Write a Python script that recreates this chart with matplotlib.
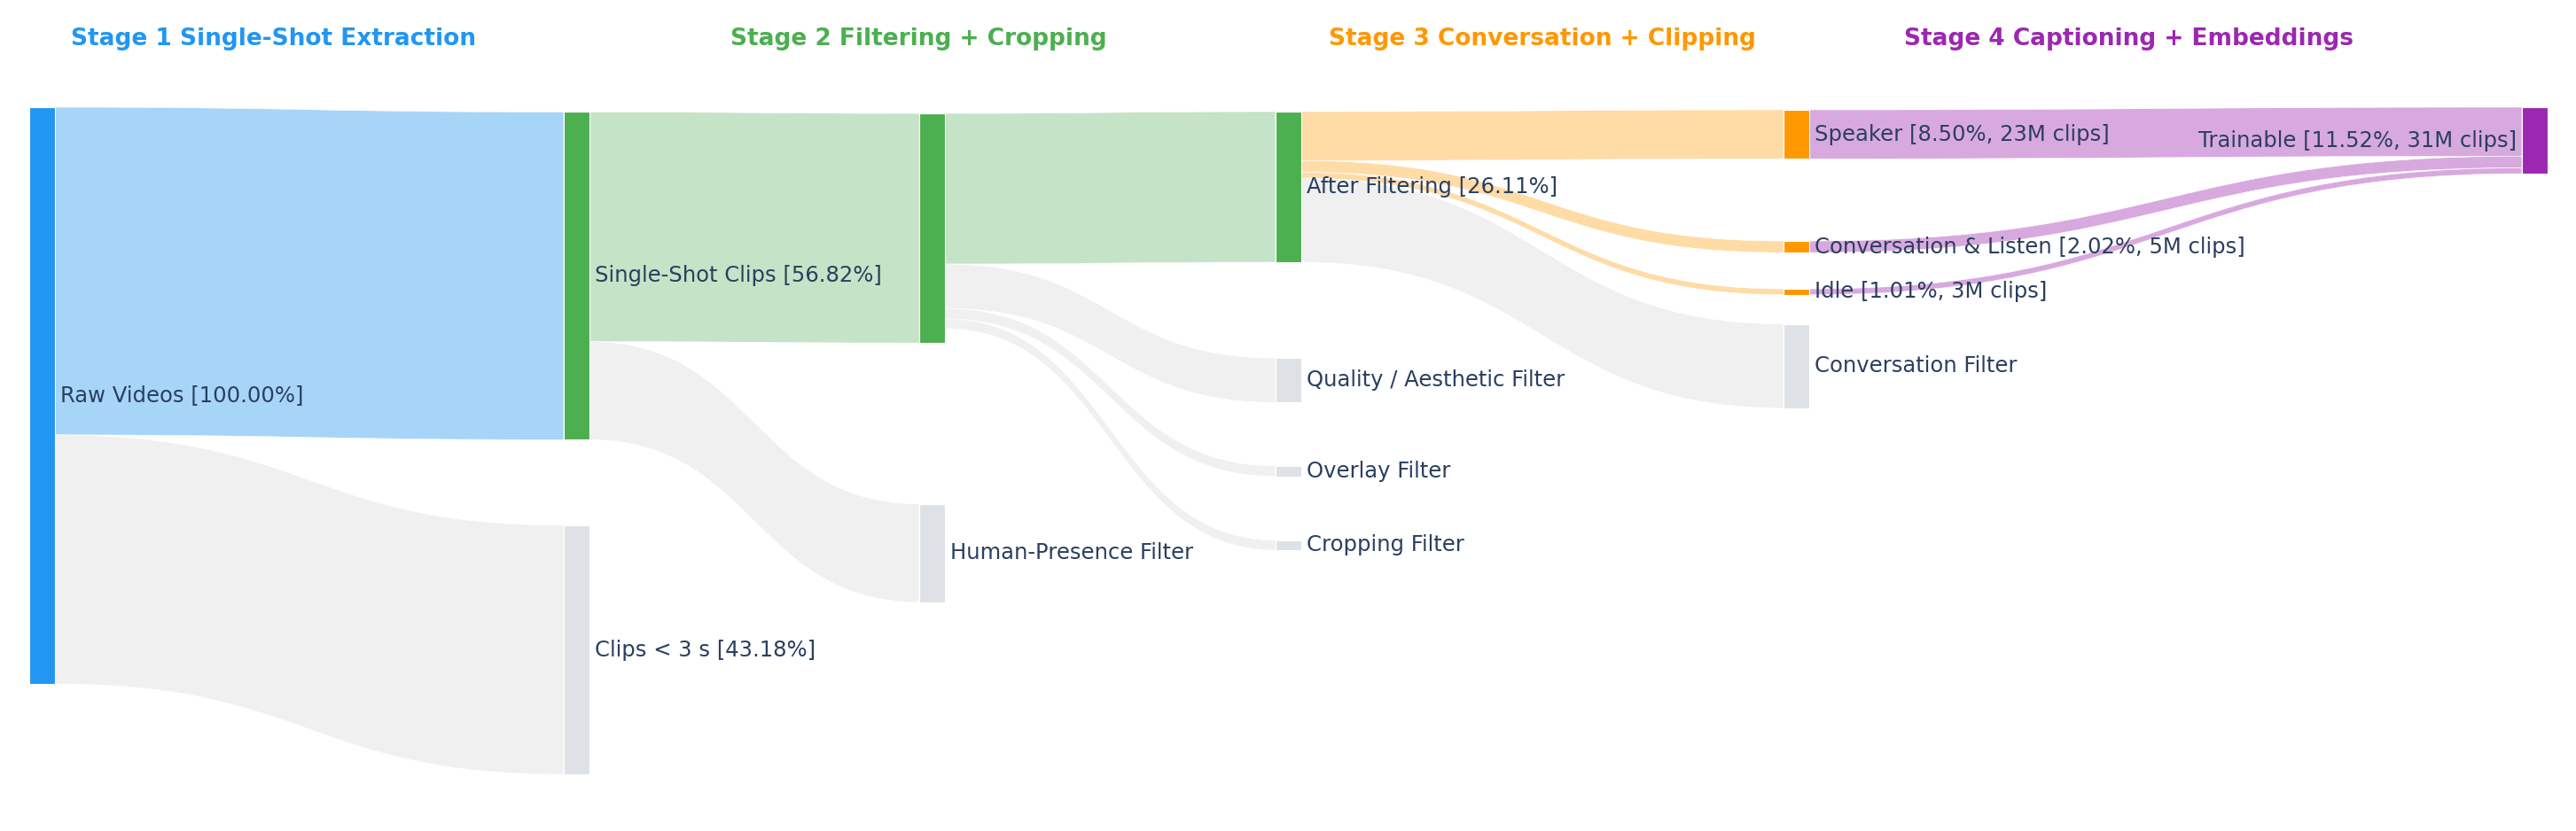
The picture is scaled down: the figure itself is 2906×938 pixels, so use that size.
import matplotlib
matplotlib.use("Agg")
import matplotlib.pyplot as plt
from matplotlib.path import Path
from matplotlib.patches import PathPatch, Rectangle

# node labels (empty label for the unnamed intermediate node)
labels = [
    "Raw Videos [100.00%]",
    "Single-Shot Clips [56.82%]",
    "Clips < 3 s [43.18%]",
    "",
    "Human-Presence Filter",
    "After Filtering [26.11%]",
    "Quality / Aesthetic Filter",
    "Overlay Filter",
    "Cropping Filter",
    "Speaker [8.50%, 23M clips]",
    "Conversation & Listen [2.02%, 5M clips]",
    "Idle [1.01%, 3M clips]",
    "Conversation Filter",
    "Trainable [11.52%, 31M clips]",
]

# links: source index, target index, value (% of raw videos)
link_src = [0, 0, 1, 1, 3, 3, 3, 3, 5, 5, 5, 5, 9, 10, 11]
link_tgt = [1, 2, 3, 4, 5, 6, 7, 8, 9, 10, 11, 12, 13, 13, 13]
link_val = [56.82, 43.18, 39.80, 17.02, 26.11, 7.70, 1.80, 1.70,
            8.50, 2.02, 1.01, 14.58, 8.50, 2.02, 1.01]

stage_titles = ["Stage 1 Single-Shot Extraction", "Stage 2 Filtering + Cropping",
                "Stage 3 Conversation + Clipping", "Stage 4 Captioning + Embeddings"]

# ---- layout / style ----
BLUE, GREEN, ORANGE, PURPLE = "#2196F3", "#4CAF50", "#FF9800", "#9C27B0"
GREY_NODE, GREY_LINK = "#DEE2E6", "#F0F0F0"
node_colors = [BLUE, GREEN, GREY_NODE, GREEN, GREY_NODE, GREEN, GREY_NODE,
               GREY_NODE, GREY_NODE, ORANGE, ORANGE, ORANGE, GREY_NODE, PURPLE]
link_colors = ["#A6D5F8", GREY_LINK, "#C5E3C6", GREY_LINK, "#C5E3C6", GREY_LINK,
               GREY_LINK, GREY_LINK, "#FFDBA6", "#FFDBA6", "#FFDBA6", GREY_LINK,
               "#D8A9DF", "#D8A9DF", "#D8A9DF"]

col_x = [33, 636, 1037, 1439, 2012, 2845]      # left edge of each column (px)
node_col = [0, 1, 1, 2, 2, 3, 3, 3, 3, 4, 4, 4, 4, 5]
node_top = [0, 0.84, 72.5, 1.08, 68.8, 0.77, 43.5, 62.2, 75.1,
            0.46, 23.2, 31.5, 37.6, 0.0]          # in % units below raw top
NODE_W = 29
PX_PER_PCT = 6.51
Y0 = 121  # pixel y of the raw-videos top
TEXT = "#2A3F5F"

W, H = 2906, 938
fig = plt.figure(figsize=(W / 100, H / 100), dpi=100)
ax = fig.add_axes([0, 0, 1, 1])
ax.set_xlim(0, W)
ax.set_ylim(H, 0)
ax.axis("off")

n = len(labels)
inflow = [0.0] * n
outflow = [0.0] * n
for s, t, v in zip(link_src, link_tgt, link_val):
    outflow[s] += v
    inflow[t] += v
node_val = [max(a, b) for a, b in zip(inflow, outflow)]
ytop = [Y0 + t * PX_PER_PCT for t in node_top]
xl = [col_x[c] for c in node_col]

# stack links at source (ordered by target y) and target (ordered by source y)
order = range(len(link_val))
src_off = {}
used = [0.0] * n
for i in sorted(order, key=lambda i: (link_src[i], ytop[link_tgt[i]])):
    src_off[i] = ytop[link_src[i]] + used[link_src[i]]
    used[link_src[i]] += link_val[i] * PX_PER_PCT
tgt_off = {}
used = [0.0] * n
for i in sorted(order, key=lambda i: (link_tgt[i], ytop[link_src[i]])):
    tgt_off[i] = ytop[link_tgt[i]] + used[link_tgt[i]]
    used[link_tgt[i]] += link_val[i] * PX_PER_PCT

for i in order:
    s, t = link_src[i], link_tgt[i]
    w = link_val[i] * PX_PER_PCT
    x0 = xl[s] + NODE_W
    x1 = xl[t]
    xm = (x0 + x1) / 2
    a, b = src_off[i], tgt_off[i]
    verts = [(x0, a), (xm, a), (xm, b), (x1, b),
             (x1, b + w), (xm, b + w), (xm, a + w), (x0, a + w), (x0, a)]
    codes = [Path.MOVETO, Path.CURVE4, Path.CURVE4, Path.CURVE4,
             Path.LINETO, Path.CURVE4, Path.CURVE4, Path.CURVE4, Path.CLOSEPOLY]
    ax.add_patch(PathPatch(Path(verts, codes), facecolor=link_colors[i],
                           edgecolor="white", linewidth=0.4, zorder=1))

for k in range(n):
    h = node_val[k] * PX_PER_PCT
    ax.add_patch(Rectangle((xl[k], ytop[k]), NODE_W, h, facecolor=node_colors[k],
                           edgecolor="white", linewidth=0.8, zorder=2))
    if not labels[k]:
        continue
    yc = ytop[k] + h / 2
    if node_col[k] == len(col_x) - 1:
        ax.text(xl[k] - 6, yc, labels[k], ha="right", va="center",
                fontsize=17.5, color=TEXT, zorder=3)
    else:
        ax.text(xl[k] + NODE_W + 6, yc, labels[k], ha="left", va="center",
                fontsize=17.5, color=TEXT, zorder=3)

title_x = [308, 1036, 1740, 2402]
for tx, title, c in zip(title_x, stage_titles, [BLUE, GREEN, ORANGE, PURPLE]):
    ax.text(tx, 44, title, ha="center", va="center", fontsize=19,
            fontweight="bold", color=c)

fig.savefig("out.png", dpi=100, facecolor="white")
